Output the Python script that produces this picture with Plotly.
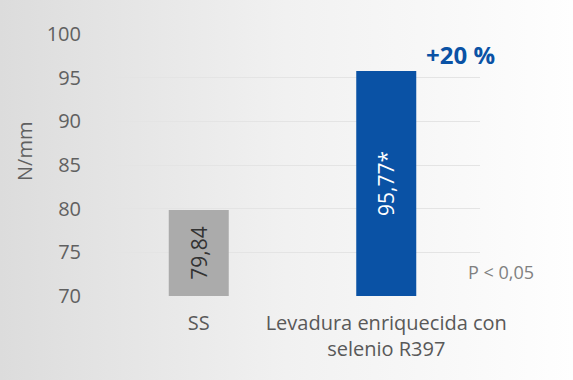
import base64
import plotly.graph_objects as go

categories = ["SS", "Levadura enriquecida con<br>selenio R397"]
values = [79.84, 95.77]
bar_labels = ["79,84", "95,77*"]
bar_colors = ["#ababab", "#0a52a5"]
label_colors = ["#333333", "#ffffff"]
y_ticks = [70, 75, 80, 85, 90, 95, 100]

W, H = 573, 380
L, R, T, B = 105, 93, 34, 84
PW, PH = W - L - R, H - T - B

svg = ('<svg xmlns="http://www.w3.org/2000/svg" width="573" height="380" viewBox="0 0 573 380" '
       'preserveAspectRatio="none">'
       '<defs><linearGradient id="g" x1="0" y1="0" x2="1" y2="0">'
       '<stop offset="0" stop-color="#dcdcdc"/><stop offset="0.5" stop-color="#f1f1f1"/>'
       '<stop offset="1" stop-color="#fefefe"/></linearGradient></defs>'
       '<rect width="573" height="380" fill="url(#g)"/></svg>')
src = "data:image/svg+xml;base64," + base64.b64encode(svg.encode()).decode()


def px(xp):
    return (xp - L) / PW


def py(yp):
    return (H - B - yp) / PH


fig = go.Figure()
fig.add_trace(go.Bar(
    x=categories, y=[v - 70 for v in values], base=70,
    marker=dict(color=bar_colors, line=dict(width=0)),
    width=0.32,
    text=bar_labels, textposition="inside", insidetextanchor="middle",
    textangle=-90,
    textfont=dict(family="Open Sans", size=21, color=label_colors),
    hoverinfo="skip",
))

fig.update_layout(
    width=W, height=H,
    margin=dict(l=L, r=R, t=T, b=B),
    paper_bgcolor="rgba(0,0,0,0)", plot_bgcolor="rgba(0,0,0,0)",
    showlegend=False,
    font=dict(family="Open Sans", color="#595959"),
    images=[dict(source=src, xref="paper", yref="paper", x=px(0), y=py(0),
                 sizex=W / PW, sizey=H / PH, sizing="stretch", layer="below",
                 xanchor="left", yanchor="top")],
    xaxis=dict(showgrid=False, showline=False, ticks="", zeroline=False,
               ticklabelstandoff=13,
               tickfont=dict(size=20, color="#595959"), fixedrange=True),
    yaxis=dict(range=[70, 100], tickvals=y_ticks, showgrid=True,
               gridcolor="#e4e4e4", gridwidth=1, zeroline=False, showline=False,
               ticks="", ticklabelstandoff=23,
               tickfont=dict(size=20, color="#606060")),
    annotations=[
        dict(text="N/mm", textangle=-90, xref="paper", yref="paper",
             x=px(24), y=py(152), xanchor="center", yanchor="middle", showarrow=False,
             font=dict(size=20, color="#606060")),
        dict(text="<b>+20 %</b>", xref="paper", yref="paper",
             x=px(460), y=py(54), xanchor="center", yanchor="middle", showarrow=False,
             font=dict(size=24, color="#0a52a5")),
        dict(text="P < 0,05", xref="paper", yref="paper",
             x=px(501), y=py(272), xanchor="center", yanchor="middle", showarrow=False,
             font=dict(size=18, color="#808080")),
    ],
)

fig.write_html("out.html", config={"displayModeBar": False},
               post_script="document.body.style.margin='0';")
